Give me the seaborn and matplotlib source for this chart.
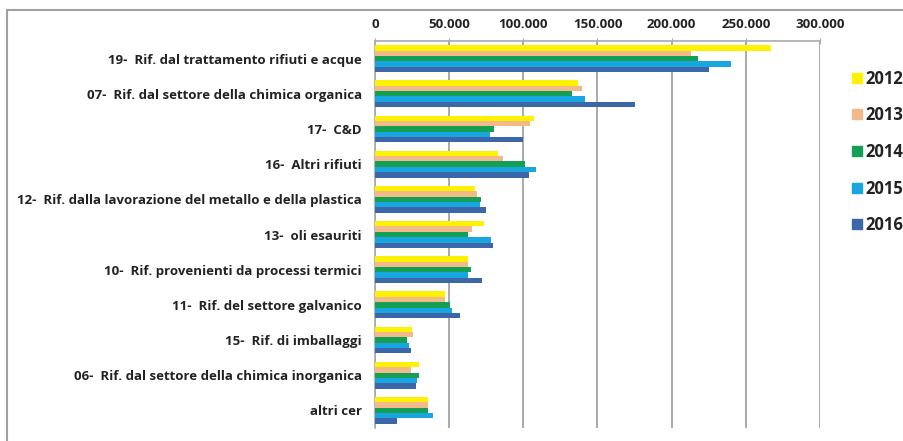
import numpy as np
import pandas as pd
import matplotlib
matplotlib.use("Agg")
import matplotlib.pyplot as plt
from matplotlib.lines import Line2D
from matplotlib.ticker import FuncFormatter
import seaborn as sns

categories = [
    "19-  Rif. dal trattamento rifiuti e acque",
    "07-  Rif. dal settore della chimica organica",
    "17-  C&D",
    "16-  Altri rifiuti",
    "12-  Rif. dalla lavorazione del metallo e della plastica",
    "13-  oli esauriti",
    "10-  Rif. provenienti da processi termici",
    "11-  Rif. del settore galvanico",
    "15-  Rif. di imballaggi",
    "06-  Rif. dal settore della chimica inorganica",
    "altri cer",
]
years = ["2012", "2013", "2014", "2015", "2016"]
v2012 = [267000, 136600, 107400, 83100, 67500, 73800, 62800, 47200, 24900, 29400, 35900]
v2013 = [212800, 139300, 104700, 86200, 69100, 65300, 62500, 47000, 25600, 24300, 35400]
v2014 = [217700, 132600, 80400, 100900, 71700, 62800, 64800, 50800, 21800, 29600, 35600]
v2015 = [240000, 141900, 77300, 108700, 70900, 78400, 63000, 51900, 22700, 28500, 39200]
v2016 = [225500, 175600, 99600, 103800, 74600, 79500, 72000, 57000, 24500, 27600, 14900]
colors = ["#FFF200", "#F4B98A", "#13A055", "#19A6E0", "#3B67A8"]

series = [v2012, v2013, v2014, v2015, v2016]
rows = []
for y, vals in zip(years, series):
    for c, v in zip(categories, vals):
        rows.append({"cat": c, "year": y, "value": v})
df = pd.DataFrame(rows)

sns.set_style("white")
plt.rcParams["font.family"] = ["Open Sans", "DejaVu Sans"]

fig = plt.figure(figsize=(9.04, 4.41), dpi=100)
ax = fig.add_axes([375 / 904, 1 - 428 / 441, (820 - 375) / 904, (428 - 41) / 441])

sns.barplot(data=df, y="cat", x="value", hue="year", order=categories,
            hue_order=years, palette=colors, orient="h", width=0.76,
            saturation=1, errorbar=None, ax=ax, legend=False, zorder=3,
            linewidth=0, edgecolor="none")

grid_c = "#AAAAAA"
ax.set_xlim(0, 300000)
ax.set_ylim(len(categories) - 0.5, -0.5)
ax.set_xticks(np.arange(0, 300001, 50000))
ax.xaxis.set_major_formatter(FuncFormatter(lambda v, p: f"{int(v):,}".replace(",", ".")))
ax.xaxis.tick_top()
ax.xaxis.set_label_position("top")
ax.set_xlabel("")
ax.set_ylabel("")
ax.grid(axis="x", color=grid_c, linewidth=1.4, zorder=0)
ax.grid(axis="y", visible=False)
for s in ["right", "bottom"]:
    ax.spines[s].set_visible(False)
for s in ["top", "left"]:
    ax.spines[s].set_color(grid_c)
    ax.spines[s].set_linewidth(1.2)

ax.tick_params(axis="x", which="major", direction="inout", length=5, color=grid_c,
               pad=5, labelsize=9.5, labelcolor="#222222")
for lbl in ax.get_xticklabels():
    lbl.set_fontweight("bold")

ax.set_yticks(np.arange(len(categories)))
ax.set_yticklabels(categories, fontsize=9.5, fontweight="bold", color="#222222")
ax.tick_params(axis="y", which="major", length=0, pad=9.4)
ax.set_yticks(np.arange(-0.5, len(categories), 1.0), minor=True)
ax.tick_params(axis="y", which="minor", direction="out", length=4, color=grid_c, width=1.2)

handles = [Line2D([0], [0], marker="s", linestyle="none", markersize=7,
                  markerfacecolor=c, markeredgecolor=c) for c in colors]
leg = fig.legend(handles, years, loc="upper left", bbox_to_anchor=(842 / 904, 1 - 63 / 441),
                 frameon=False, handletextpad=0.0, labelspacing=1.12, handlelength=1.0,
                 borderaxespad=0, prop={"weight": "bold", "size": 12})
for t in leg.get_texts():
    t.set_color("#222222")

# outer chart frame
fig.add_artist(Line2D([7 / 904, 7 / 904], [0, 1 - 10 / 441], transform=fig.transFigure,
                      color="#A0A0A0", linewidth=1.5))
fig.add_artist(Line2D([7 / 904, 1], [1 - 10 / 441, 1 - 10 / 441], transform=fig.transFigure,
                      color="#A0A0A0", linewidth=1.5))

fig.savefig("out.png", dpi=100)
